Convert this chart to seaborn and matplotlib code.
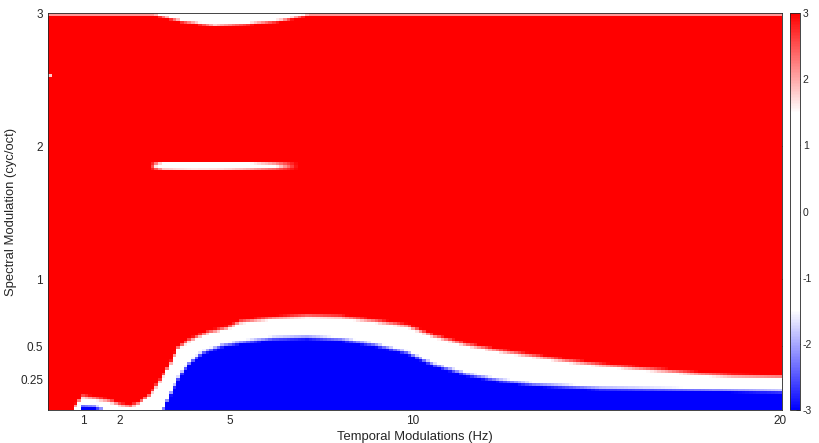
import numpy as np
import pandas as pd
import seaborn as sns
from matplotlib import pyplot as plt
from matplotlib.colors import LinearSegmentedColormap

# grid of the map (cell centres)
temporal_hz = np.round(np.arange(1, 201) * 0.1, 2)
spectral_cyc = np.round(2.99 - 0.02 * np.arange(149), 2)

# upper edge of the white band (where it turns red)
red_edge_hz = [0.0, 0.7, 0.78, 0.92, 1.0, 1.28, 1.74, 2.01, 2.3, 2.55, 2.83, 3.10, 3.37,
               3.59, 3.92, 4.38, 4.93, 5.28, 6.18, 7.11, 8.01, 8.91, 9.83, 10.54,
               11.47, 12.37, 13.27, 14.19, 15.09, 15.99, 16.92, 17.82, 18.72, 20.1]
red_edge_cyc = [-0.05, -0.01, 0.03, 0.08, 0.105, 0.094, 0.071, 0.044, 0.03, 0.06, 0.116,
                0.222, 0.342, 0.469, 0.529, 0.582, 0.619, 0.664, 0.694, 0.709, 0.702,
                0.672, 0.635, 0.56, 0.492, 0.447, 0.409, 0.372, 0.342, 0.319, 0.297,
                0.274, 0.259, 0.252]

# lower edge of the white band (where it turns blue)
blue_edge_hz = [0.0, 0.8, 0.95, 1.0, 1.3, 1.55, 1.7, 2.0, 2.6, 2.9, 3.15, 3.37, 3.64,
                3.92, 4.27, 4.82, 5.28, 6.18, 7.11, 8.01, 8.91, 9.83, 10.54, 11.47,
                12.37, 13.27, 14.19, 15.09, 16.92, 18.72, 20.1]
blue_edge_cyc = [-0.2, -0.05, 0.03, 0.07, 0.065, 0.04, -0.02, -0.12, -0.15, -0.04,
                 0.019, 0.146, 0.297, 0.394, 0.469, 0.522, 0.544, 0.574, 0.582, 0.567,
                 0.529, 0.469, 0.379, 0.304, 0.259, 0.229, 0.214, 0.199, 0.192, 0.184,
                 0.177]

# white arc hanging from the top edge
arc_hz = [0.0, 2.95, 3.7, 4.6, 5.5, 6.4, 7.15, 20.1]
arc_depth = [0.0, 0.0, 0.05, 0.085, 0.07, 0.045, 0.0, 0.0]

# thin white streak near 1.85 cyc/oct (how far it dips below 3 at its centre)
streak_centre = 1.853
streak_hz = [0.0, 2.85, 3.0, 3.2, 4.0, 4.8, 5.5, 6.2, 6.85, 20.1]
streak_dip = [0.0, 0.0, 1.5, 3.4, 4.0, 3.8, 3.0, 1.8, 0.0, 0.0]

# isolated pale cells
spot_hz = [0.1]
spot_cyc = [2.53]
spot_val = [1.8]

X, Y = np.meshgrid(temporal_hz, spectral_cyc)
red_b = np.interp(temporal_hz, red_edge_hz, red_edge_cyc)[None, :]
blue_t = np.interp(temporal_hz, blue_edge_hz, blue_edge_cyc)[None, :]

inside = -1.5 + 3 * (Y - blue_t) / (red_b - blue_t)
above = 1.5 + 1.5 * (Y - red_b) / 0.035
below = -1.5 - 1.5 * (blue_t - Y) / 0.035
z = np.where(Y > red_b, above, np.where(Y < blue_t, below, inside))
z = np.clip(z, -3, 3)

# arc: white down to its depth, then a short fade into red
depth = np.maximum(np.interp(temporal_hz, arc_hz, arc_depth), 1e-6)[None, :]
dist = 3.0 - Y
arc = np.where(dist < depth, 1.5 * dist / depth, 1.5 + 1.5 * (dist - depth) / 0.025)
z = np.minimum(z, np.clip(arc, 0, 3))

dip = np.interp(temporal_hz, streak_hz, streak_dip)[None, :]
z = np.minimum(z, 3 - dip * np.clip(1 - np.abs(Y - streak_centre) / 0.035, 0, 1))

for sx, sy, sv in zip(spot_hz, spot_cyc, spot_val):
    i = np.argmin(np.abs(spectral_cyc - sy))
    j = np.argmin(np.abs(temporal_hz - sx))
    z[i, j] = min(z[i, j], sv)

grid = pd.DataFrame(z, index=spectral_cyc, columns=temporal_hz)

sns.set_style('white')
plt.rcParams['font.family'] = ['Liberation Sans', 'DejaVu Sans']

cmap = LinearSegmentedColormap.from_list(
    'bwr_flat', [(0, (0, 0, 1)), (0.25, (1, 1, 1)), (0.75, (1, 1, 1)), (1, (1, 0, 0))])

fig = plt.figure(figsize=(8.19, 4.43), dpi=100)
ax = fig.add_axes([48 / 819, 33 / 443, 734 / 819, 397 / 443])
cax = fig.add_axes([790 / 819, 33 / 443, 10 / 819, 397 / 443])

sns.heatmap(grid, ax=ax, cbar_ax=cax, cmap=cmap, vmin=-3, vmax=3,
            xticklabels=False, yticklabels=False)

ink = '#262626'
x_ticks = [1, 2, 5, 10, 20]
y_ticks = [0.25, 0.5, 1, 2, 3]
ax.set_xticks([(v - 0.05) / 0.1 for v in x_ticks])
ax.set_xticklabels([str(v) for v in x_ticks])
ax.set_yticks([(3.0 - v) / 0.02 for v in y_ticks])
ax.set_yticklabels([str(v) for v in y_ticks], rotation=0)
ax.tick_params(direction='in', top=True, right=True, length=4, width=0.6,
               color=ink, labelcolor=ink, labelsize=8.5)
for s in ax.spines.values():
    s.set_visible(True)
    s.set_color(ink)
    s.set_linewidth(0.6)
ax.set_xlabel('Temporal Modulations (Hz)', fontsize=9.4, color=ink, labelpad=3)
ax.set_ylabel('Spectral Modulation (cyc/oct)', fontsize=9.4, color=ink, labelpad=2)

cbar = ax.collections[0].colorbar
cbar.set_ticks(range(-3, 4))
cbar.set_ticklabels([str(v) for v in range(-3, 4)])
cbar.outline.set_linewidth(0.6)
cbar.outline.set_edgecolor(ink)
cax.tick_params(direction='in', length=3, width=0.6, color=ink, labelcolor=ink,
                labelsize=7.5, pad=2)

plt.savefig('out.png', dpi=100)
